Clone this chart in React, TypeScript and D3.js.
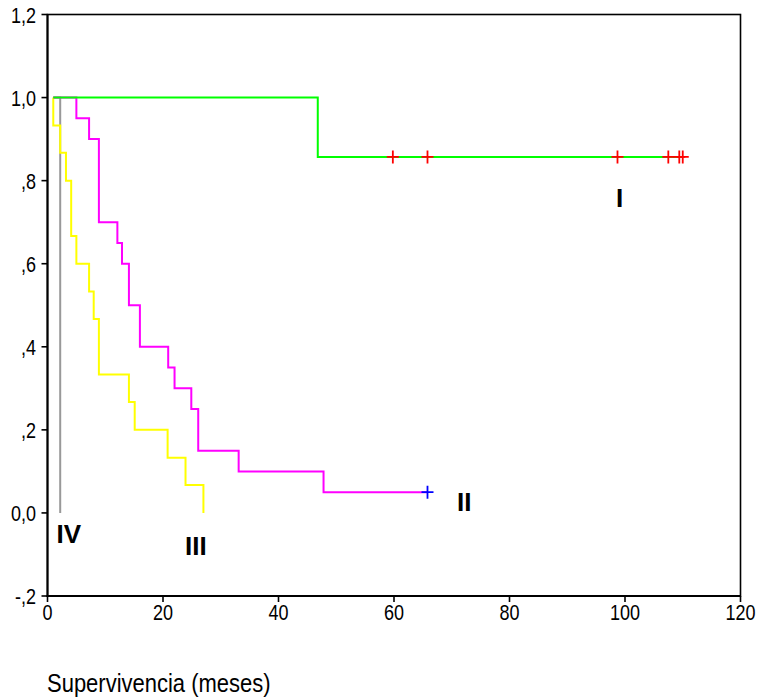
import React, { useEffect } from "react";
import * as d3 from "d3";

// Kaplan-Meier curves by stage (time in months, survival proportion)
const stageITimes = [1, 46.8, 110];
const stageISurv = [1, 0.857, 0.857];
const stageICensored = [59.8, 65.8, 98.7, 107.5, 109.4, 110];

const stageIITimes = [1, 5, 7.2, 8.9, 12.1, 12.9, 14.1, 16, 20.9, 22, 24.9, 26.1, 33.1, 47.8, 65.8];
const stageIISurv = [1, 0.95, 0.9, 0.7, 0.65, 0.6, 0.5, 0.4, 0.35, 0.3, 0.25, 0.15, 0.1, 0.05, 0.05];
const stageIICensored = [65.8];

const stageIIITimes = [1, 1, 2.2, 3.2, 4.1, 5, 7.2, 8, 8.9, 14.1, 15.1, 20.8, 23.9, 27];
const stageIIISurv = [1, 0.933, 0.867, 0.8, 0.667, 0.6, 0.533, 0.467, 0.333, 0.267, 0.2, 0.133, 0.067, 0];

const stageIVTimes = [1, 2.2];
const stageIVSurv = [1, 0];

const xTicks = [0, 20, 40, 60, 80, 100, 120];
const yTicks = [-0.2, 0, 0.2, 0.4, 0.6, 0.8, 1.0, 1.2];
const yTickLabels = ["-,2", "0,0", ",2", ",4", ",6", ",8", "1,0", "1,2"];

const xTitle = "Supervivencia (meses)";

const W = 757;
const H = 699;

export default function App() {
  useEffect(() => {
    document.body.style.margin = "0";
  }, []);

  const x = d3.scaleLinear().domain([0, 120]).range([47.5, 740.5]);
  const y = d3.scaleLinear().domain([-0.2, 1.2]).range([596, 14.5]);

  const line = d3
    .line<[number, number]>()
    .x((d) => x(d[0]))
    .y((d) => y(d[1]))
    .curve(d3.curveStepAfter);

  const toPts = (t: number[], s: number[]) => t.map((v, i) => [v, s[i]] as [number, number]);

  const curves = [
    { name: "IV", pts: toPts(stageIVTimes, stageIVSurv), color: "#999999" },
    { name: "III", pts: toPts(stageIIITimes, stageIIISurv), color: "#ffff00" },
    { name: "II", pts: toPts(stageIITimes, stageIISurv), color: "#ff00ff" },
    { name: "I", pts: toPts(stageITimes, stageISurv), color: "#00ff00" },
  ];

  const censored = [
    ...stageICensored.map((t) => ({ t, s: 0.857, color: "#ff0000" })),
    ...stageIICensored.map((t) => ({ t, s: 0.05, color: "#0000ff" })),
  ];

  const labels = [
    { text: "I", x: 616, y: 207 },
    { text: "II", x: 457, y: 510.5 },
    { text: "III", x: 185, y: 555 },
    { text: "IV", x: 56.5, y: 542.5 },
  ];

  const font = "Arial, 'Liberation Sans', sans-serif";

  return (
    <svg width={W} height={H} style={{ display: "block", background: "#fff" }}>
      {/* frame */}
      <rect x={x(0)} y={y(1.2)} width={x(120) - x(0)} height={y(-0.2) - y(1.2)}
        fill="none" stroke="#000" strokeWidth={1.6} />
      <line x1={x(0)} x2={x(0)} y1={y(1.2)} y2={y(-0.2) + 1} stroke="#000" strokeWidth={2} />
      <line x1={x(0) - 1} x2={x(120)} y1={y(-0.2)} y2={y(-0.2)} stroke="#000" strokeWidth={2} />

      {/* y ticks */}
      {yTicks.map((v, i) => (
        <g key={"y" + i}>
          <line x1={x(0) - 6} x2={x(0)} y1={y(v)} y2={y(v)} stroke="#000" strokeWidth={1.6} />
          <text transform={`translate(36,${y(v) + 8}) scale(1,1.25)`} textAnchor="end"
            fontFamily={font} fontSize={18} fill="#000">{yTickLabels[i]}</text>
        </g>
      ))}

      {/* x ticks */}
      {xTicks.map((v) => (
        <g key={"x" + v}>
          <line x1={x(v)} x2={x(v)} y1={y(-0.2)} y2={y(-0.2) + 6} stroke="#000" strokeWidth={1.6} />
          <text transform={`translate(${x(v)},620) scale(1,1.25)`} textAnchor="middle"
            fontFamily={font} fontSize={18} fill="#000">{v}</text>
        </g>
      ))}

      {/* curves */}
      {curves.map((c) => (
        <path key={c.name} d={line(c.pts) || ""} fill="none" stroke={c.color} strokeWidth={2} />
      ))}

      {/* censored marks */}
      {censored.map((c, i) => (
        <path key={"c" + i} transform={`translate(${x(c.t)},${y(c.s)})`}
          d="M-6,0H6M0,-6.5V6.5" stroke={c.color} strokeWidth={1.8} fill="none" />
      ))}

      {/* stage labels */}
      {labels.map((l) => (
        <text key={l.text} x={l.x} y={l.y} fontFamily={font} fontSize={26} fontWeight="bold" fill="#000">
          {l.text}
        </text>
      ))}

      {/* x title */}
      <text transform="translate(47,691.5) scale(1,1.2)" fontFamily={font} fontSize={22} fill="#000">
        {xTitle}
      </text>
    </svg>
  );
}
